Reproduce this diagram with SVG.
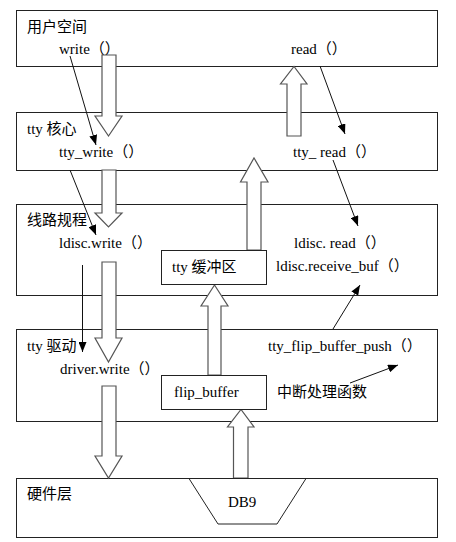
<svg xmlns="http://www.w3.org/2000/svg" width="456" height="542" viewBox="0 0 456 542">
<style>
.layer{fill:#fff;stroke:#222;stroke-width:1}
.buf{fill:#fff;stroke:#222;stroke-width:1}
.ha{fill:#fff;stroke:#555;stroke-width:1.2}
.ln{stroke:#111;stroke-width:1;fill:none;marker-end:url(#ah)}
.t{font-family:"Liberation Serif","Noto Sans CJK SC",serif;font-size:15px;fill:#000}
.c{font-family:"Noto Sans CJK SC",sans-serif;font-size:15px;fill:#000}
</style>
<defs>
<marker id="ah" viewBox="0 0 10 8" refX="10" refY="4" markerWidth="10" markerHeight="8" markerUnits="userSpaceOnUse" orient="auto">
<path d="M0,0 L10,4 L0,8 Z" fill="#000"/>
</marker>
</defs>
<rect width="456" height="542" fill="#fff"/>
<g id="layer-user">
<rect class="layer" x="16.5" y="10.5" width="421" height="56"/>
<text class="c" x="27" y="32">用户空间</text>
<text class="t" x="59" y="54">write（）</text>
<text class="t" x="291" y="54">read（）</text>
</g>
<g id="layer-core">
<rect class="layer" x="16.5" y="112.5" width="421" height="58"/>
<text class="t" x="27" y="134">tty <tspan class="c">核心</tspan></text>
<text class="t" x="59" y="157">tty_write（）</text>
<text class="t" x="293" y="157">tty_ read（）</text>
</g>
<g id="layer-ldisc">
<rect class="layer" x="16.5" y="204.5" width="421" height="91"/>
<text class="c" x="27" y="225">线路规程</text>
<text class="t" x="59" y="248">ldisc.write（）</text>
<text class="t" x="294" y="248">ldisc. read（）</text>
<text class="t" x="276" y="271">ldisc.receive_buf（）</text>
</g>
<g id="layer-driver">
<rect class="layer" x="16.5" y="329.5" width="421" height="92"/>
<text class="t" x="27" y="351">tty <tspan class="c">驱动</tspan></text>
<text class="t" x="60" y="374">driver.write（）</text>
<text class="t" x="268" y="351">tty_flip_buffer_push（）</text>
<text class="c" x="277" y="397">中断处理函数</text>
</g>
<g id="layer-hw">
<rect class="layer" x="16.5" y="478.5" width="421" height="59"/>
<text class="c" x="27" y="499">硬件层</text>
</g>
<g id="connectors">
<polygon class="ha" points="102,55 116,55 116,116 122,116 108.5,136 95,116 102,116"/>
<polygon class="ha" points="102,170 116,170 116,213 122,213 108.5,227 95,213 102,213"/>
<polygon class="ha" points="102,262 116,262 116,338 122,338 108.5,362 95,338 102,338"/>
<polygon class="ha" points="102,386 116,386 116,456 122,456 108.5,478 95,456 102,456"/>
<polygon class="ha" points="287,136 301,136 301,84 307,84 294,66.5 280.5,84 287,84"/>
<polygon class="ha" points="247,250 261,250 261,182 268,182 254,158 240.5,182 247,182"/>
<polygon class="ha" points="208,375 221,375 221,306 228,306 214.5,285 201,306 208,306"/>
<polygon class="ha" points="233.5,478 248,478 248,427 254,427 241,409.5 227.5,427 233.5,427"/>
<line class="ln" x1="70" y1="56" x2="96" y2="145"/>
<line class="ln" x1="70" y1="170" x2="96" y2="235"/>
<line class="ln" x1="82.5" y1="265" x2="82.5" y2="352"/>
<line class="ln" x1="320" y1="66" x2="345" y2="134"/>
<line class="ln" x1="333" y1="160" x2="358" y2="226"/>
<line class="ln" x1="333" y1="329" x2="360" y2="285"/>
<line class="ln" x1="350" y1="383" x2="398" y2="365"/>
</g>
<g id="tty-buffer">
<rect class="buf" x="161.5" y="250.5" width="105" height="34"/>
<text class="t" x="172" y="272">tty <tspan class="c">缓冲区</tspan></text>
</g>
<g id="flip-buffer">
<rect class="buf" x="161.5" y="375.5" width="105" height="34"/>
<text class="t" x="174" y="397">flip_buffer</text>
</g>
<g id="db9">
<polygon class="buf" points="189,478.5 306,478.5 277,524 218,524"/>
<text class="t" x="228" y="507">DB9</text>
</g>
</svg>
